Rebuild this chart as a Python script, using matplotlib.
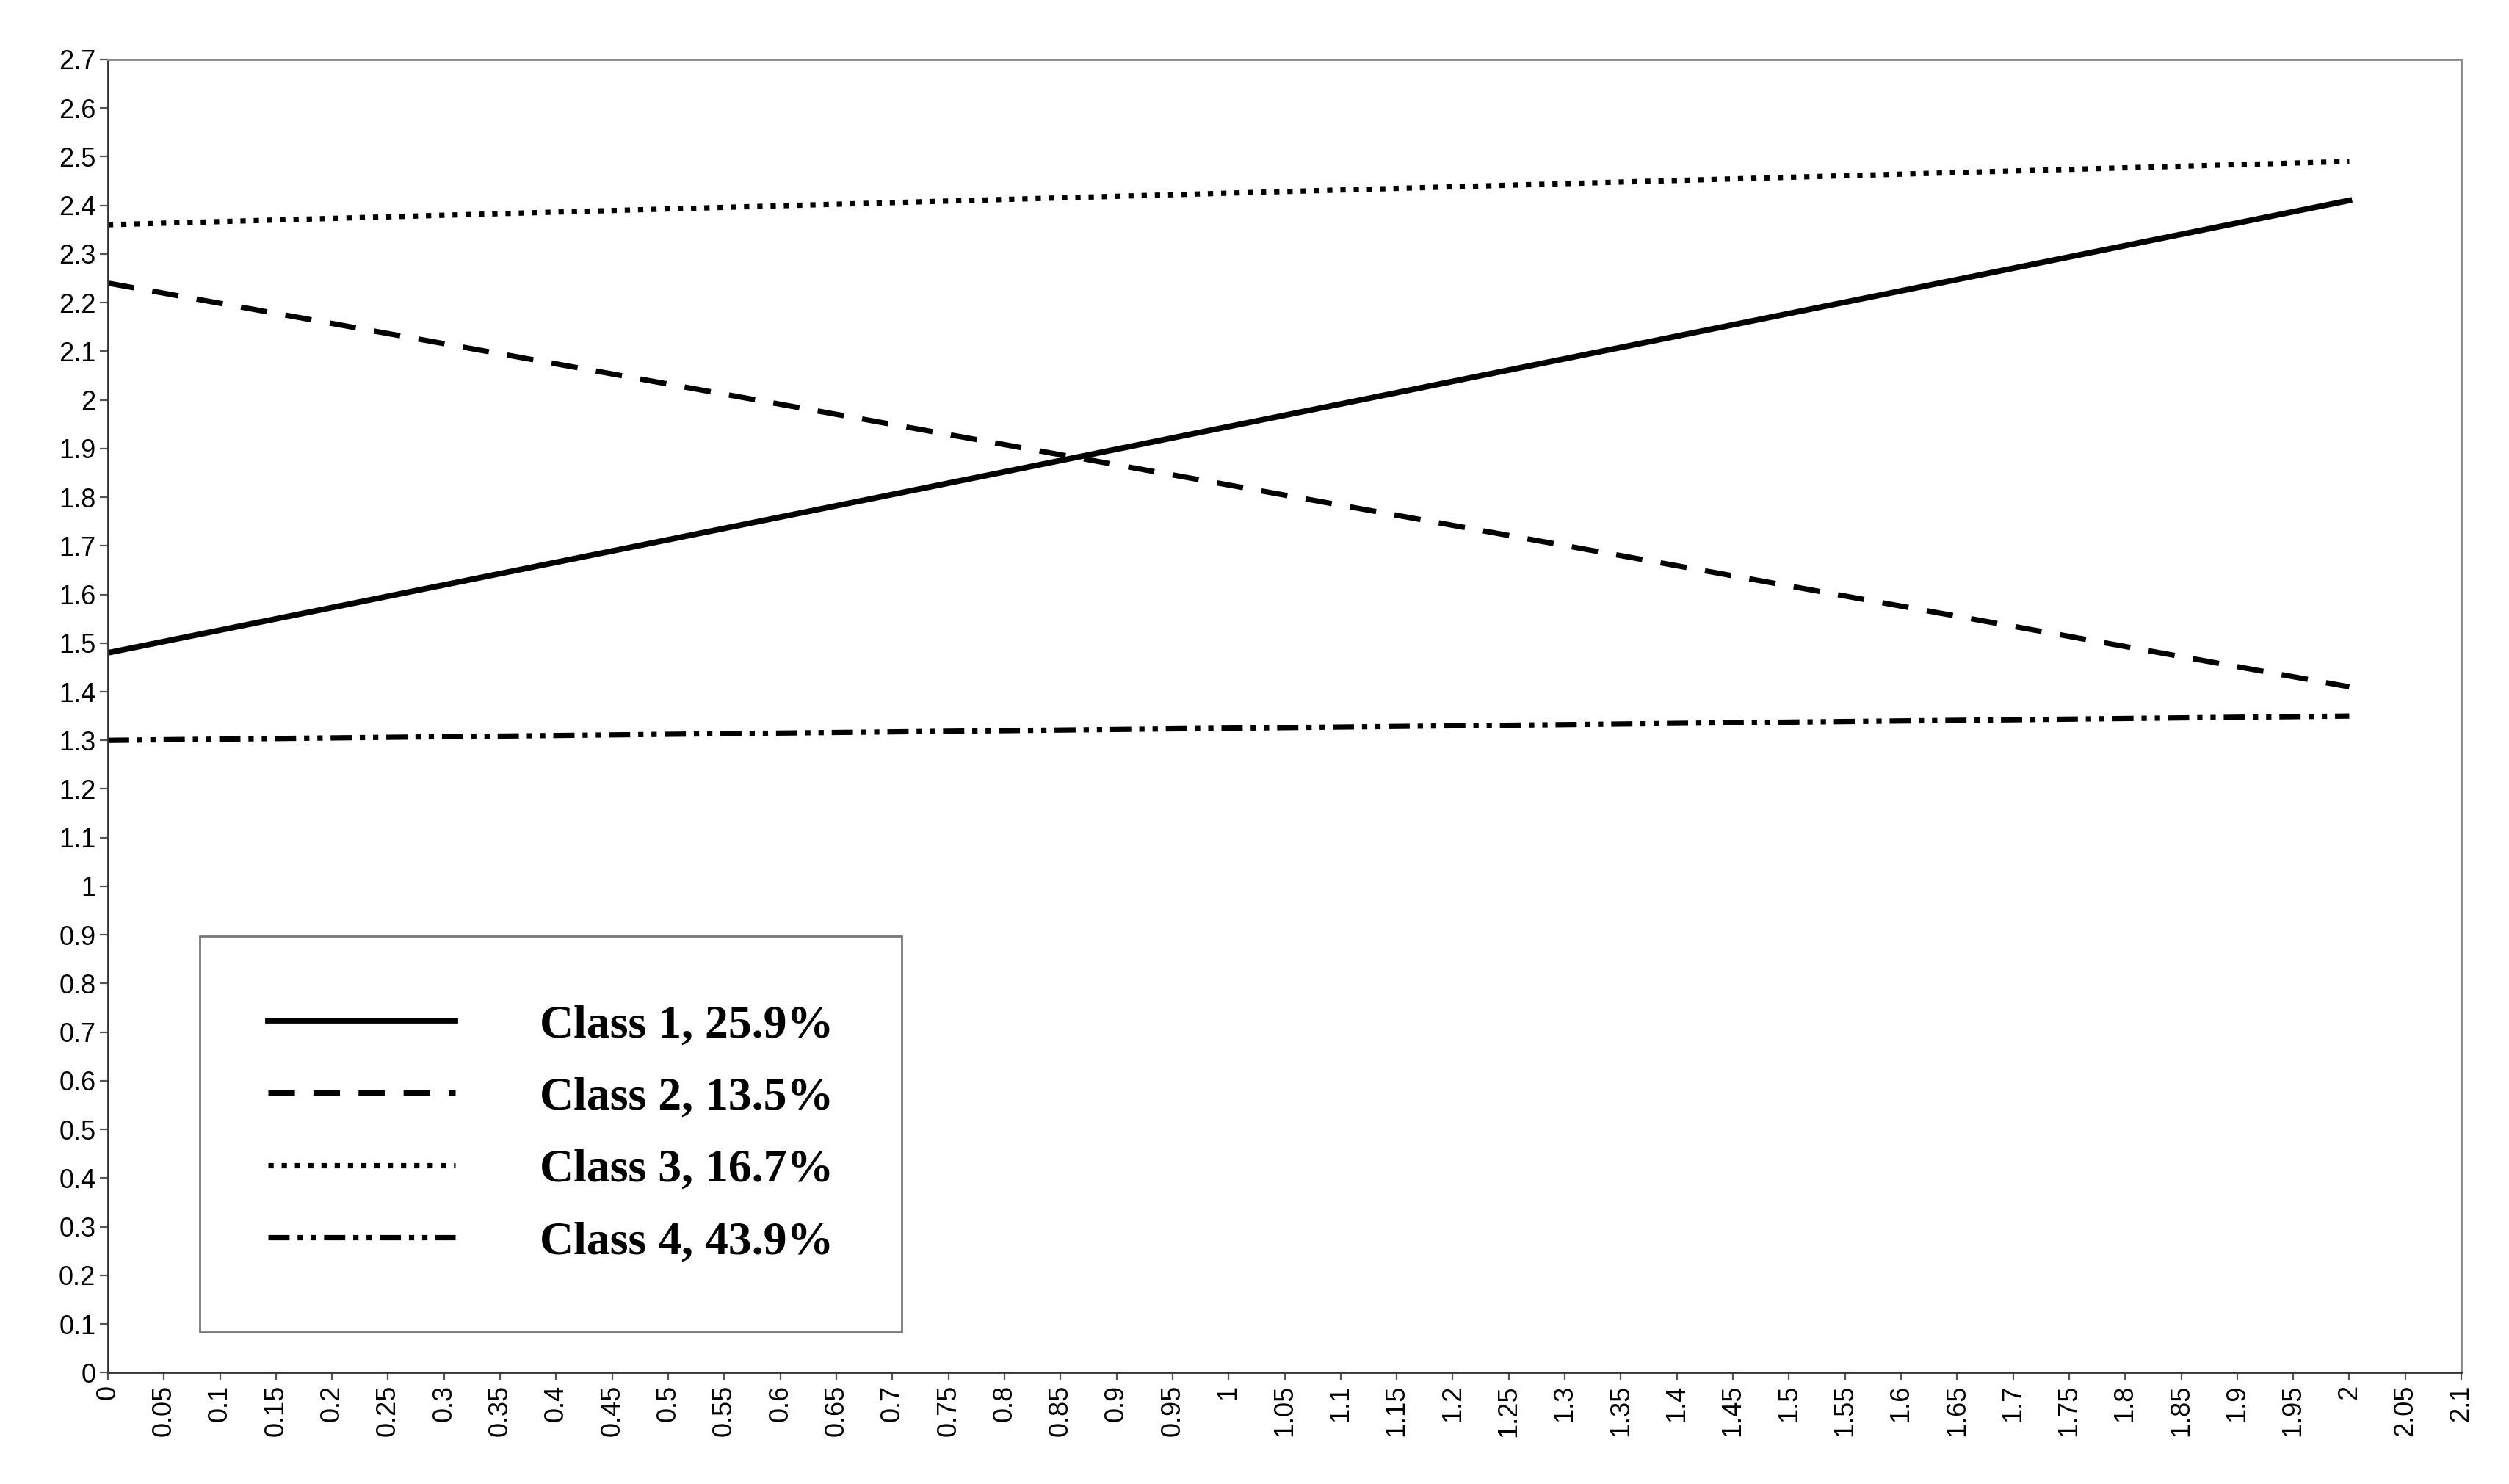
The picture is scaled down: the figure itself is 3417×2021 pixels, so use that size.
import numpy as np
import matplotlib
matplotlib.use("Agg")
import matplotlib.pyplot as plt

# endpoints of the four class lines
x_vals = [0, 2]
class1 = [1.48, 2.41]
class2 = [2.24, 1.41]
class3 = [2.36, 2.49]
class4 = [1.30, 1.35]
labels = ["Class 1, 25.9%", "Class 2, 13.5%", "Class 3, 16.7%", "Class 4, 43.9%"]


def fmt(v):
    s = f"{v:.2f}".rstrip("0").rstrip(".")
    return s


plt.rcParams["font.family"] = ["Liberation Sans", "DejaVu Sans"]
fig = plt.figure(figsize=(17.085, 10.105), dpi=200)
ax = fig.add_axes([0.043, 0.075, 0.938, 0.885])

ax.plot(x_vals, class1, color="black", lw=2.8, label=labels[0])
ax.plot(x_vals, class2, color="black", lw=2.6, ls=(0, (5, 3.5)), label=labels[1])
ax.plot(x_vals, class3, color="black", lw=2.6, ls=(0, (1, 1.5)), label=labels[2])
ax.plot(x_vals, class4, color="black", lw=2.6, ls=(0, (4, 1.5, 1, 1.5, 1, 1.5)), label=labels[3])

xt = np.round(np.arange(0, 2.1001, 0.05), 2)
yt = np.round(np.arange(0, 2.7001, 0.1), 1)
ax.set_xticks(xt)
ax.set_xticklabels([fmt(v) for v in xt], rotation=90, fontsize=13)
ax.set_yticks(yt)
ax.set_yticklabels([fmt(v) for v in yt], fontsize=13)
ax.set_xlim(0, 2.1)
ax.set_ylim(0, 2.7)
ax.tick_params(length=4, color="#555555", pad=2)
for s in ax.spines.values():
    s.set_color("#888888")
    s.set_linewidth(1)
ax.spines["left"].set_color("#333333")
ax.spines["bottom"].set_color("#333333")

leg = ax.legend(loc="lower left", bbox_to_anchor=(0.039, 0.031), fancybox=False,
                frameon=True, handlelength=4.0, handletextpad=1.8, labelspacing=0.62,
                borderpad=1.45, borderaxespad=0,
                prop={"family": "Liberation Serif", "weight": "bold", "size": 23})
leg.get_frame().set_edgecolor("#555555")
leg.get_frame().set_linewidth(1)

fig.savefig("out.png", dpi=200)
